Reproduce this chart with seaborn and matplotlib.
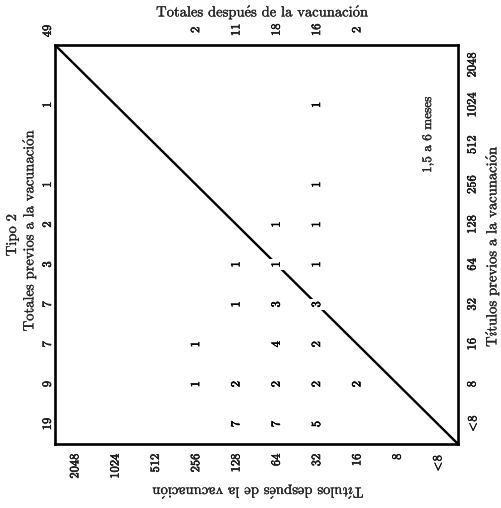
import matplotlib
matplotlib.use("Agg")
import matplotlib.pyplot as plt
import matplotlib.transforms as mtransforms
import matplotlib.patheffects as pe
from matplotlib.text import Text
from matplotlib.colors import ListedColormap
import numpy as np
import pandas as pd
import seaborn as sns

# Titer categories (low -> high)
titers = ["<8", "8", "16", "32", "64", "128", "256", "512", "1024", "2048"]

# Counts per pre-vaccination titer (rows); entries are post-vaccination titers in `titers` order
pre_lt8 = [0, 0, 0, 5, 7, 7, 0, 0, 0, 0]
pre_8 = [0, 0, 2, 2, 2, 2, 1, 0, 0, 0]
pre_16 = [0, 0, 0, 2, 4, 0, 1, 0, 0, 0]
pre_32 = [0, 0, 0, 3, 3, 1, 0, 0, 0, 0]
pre_64 = [0, 0, 0, 1, 1, 1, 0, 0, 0, 0]
pre_128 = [0, 0, 0, 1, 1, 0, 0, 0, 0, 0]
pre_256 = [0, 0, 0, 1, 0, 0, 0, 0, 0, 0]
pre_512 = [0, 0, 0, 0, 0, 0, 0, 0, 0, 0]
pre_1024 = [0, 0, 0, 1, 0, 0, 0, 0, 0, 0]
pre_2048 = [0, 0, 0, 0, 0, 0, 0, 0, 0, 0]

# Texts (accents written with Computer Modern mathtext so the font stays uniform)
title_top = r"Totales despu$\acute{\mathrm{e}}$s de la vacunaci$\acute{\mathrm{o}}$n"
label_left_1 = "Tipo 2"
label_left_2 = r"Totales previos a la vacunaci$\acute{\mathrm{o}}$n"
label_right = r"T$\acute{\imath}$tulos previos a la vacunaci$\acute{\mathrm{o}}$n"
label_bottom = r"T$\acute{\imath}$tulos despu$\acute{\mathrm{e}}$s de la vacunaci$\acute{\mathrm{o}}$n"
note = "1,5 a 6 meses"

sns.set_style("white")
plt.rcParams["font.family"] = ["cmr10", "DejaVu Serif"]
plt.rcParams["mathtext.fontset"] = "cm"
plt.rcParams["axes.formatter.use_mathtext"] = True

rows = [pre_lt8, pre_8, pre_16, pre_32, pre_64, pre_128, pre_256, pre_512, pre_1024, pre_2048]
mat = pd.DataFrame(rows, index=titers, columns=titers)  # index: pre, columns: post
mat = mat.iloc[::-1, ::-1]  # 2048 at top (pre) and at left (post)
annot = mat.astype(str).where(mat > 0, "")
n = len(titers)

def disp(t):
    return t.replace("<", r"$<\!$")

W, H = 502, 508
fig = plt.figure(figsize=(W / 100, H / 100), dpi=100)
ax = fig.add_axes([55 / W, 1 - 444 / H, (458 - 55) / W, (444 - 45) / H])

sns.heatmap(mat, mask=(mat == 0), annot=annot, fmt="", cmap=ListedColormap(["white"]),
            cbar=False, ax=ax, linewidths=0,
            annot_kws=dict(rotation=90, fontsize=9, color="black",
                           bbox=dict(facecolor="white", edgecolor="none", pad=1.5)))

# diagonal: post == pre
ax.plot([0, n], [0, n], color="black", lw=1.7, zorder=2, solid_capstyle="butt")

for s in ax.spines.values():
    s.set_visible(True)
    s.set_linewidth(1.9)
    s.set_color("black")

ax.set_xlabel("")
ax.set_ylabel("")
ax.yaxis.tick_right()
ax.set_xticklabels([disp(t) for t in mat.columns], rotation=90, va="top")
ax.set_yticklabels([disp(t) for t in mat.index], rotation=90, va="center", ha="left")
ax.tick_params(length=0, labelsize=9)
ax.tick_params(axis="x", pad=7)
ax.tick_params(axis="y", pad=6)

# totals
post_tot = mat.sum(axis=0)
pre_tot = mat.sum(axis=1)
tr_top = mtransforms.blended_transform_factory(ax.transData, ax.transAxes)
for j, v in enumerate(post_tot.values):
    if v > 0:
        ax.text(j + 0.5, 1.038, str(v), transform=tr_top, rotation=90,
                ha="center", va="center", fontsize=9)
tr_left = mtransforms.blended_transform_factory(ax.transAxes, ax.transData)
for i, v in enumerate(pre_tot.values):
    if v > 0:
        ax.text(-0.018, i + 0.5, str(v), transform=tr_left, rotation=90,
                ha="center", va="center", fontsize=9)
ax.text(-0.018, 1.035, str(int(mat.values.sum())), transform=ax.transAxes,
        rotation=90, ha="center", va="center", fontsize=9)

# slightly heavier glyphs for the numbers, like the printed original
for t in fig.findobj(Text):
    t.set_path_effects([pe.withStroke(linewidth=0.4, foreground="black")])

# labels
labels = [
    fig.text(263 / W, 1 - 12 / H, title_top, ha="center", va="center", fontsize=10.5),
    fig.text(12 / W, 1 - 235 / H, label_left_1, ha="center", va="center", rotation=90, fontsize=10.5),
    fig.text(29 / W, 1 - 230 / H, label_left_2, ha="center", va="center", rotation=90, fontsize=10.5),
    fig.text(492 / W, 1 - 246 / H, label_right, ha="center", va="center", rotation=90, fontsize=10.5),
    fig.text(257 / W, 1 - 492 / H, label_bottom, ha="center", va="center", rotation=180, fontsize=10.5),
    fig.text(428 / W, 1 - 135 / H, note, ha="center", va="center", rotation=90, fontsize=9.5),
]
for t in labels:
    t.set_path_effects([pe.withStroke(linewidth=0.2, foreground="black")])

fig.savefig("out.png", dpi=100)
